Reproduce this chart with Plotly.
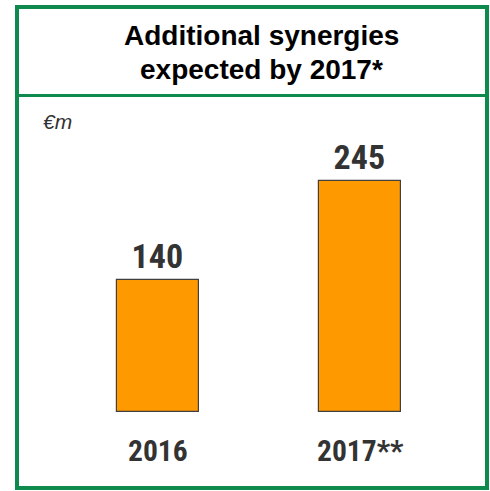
import plotly.graph_objects as go

# Chart data
categories = ["2016", "2017**"]
synergies = [140, 245]
title_lines = ["Additional synergies", "expected by 2017*"]
unit_label = "€m"

W, H = 490, 491
GREEN = "#0E8A4E"
ORANGE = "#FF9900"
DARK = "#333333"
NARROW = "Roboto Condensed, Liberation Sans Narrow, Arial Narrow, sans-serif"


def py(y_px):
    """Convert a pixel row (from top) to paper y."""
    return 1 - y_px / H


def px(x_px):
    return x_px / W


fig = go.Figure()
fig.add_trace(
    go.Bar(
        x=list(range(len(categories))),
        y=synergies,
        width=0.406,
        marker=dict(color=ORANGE, line=dict(color="#404040", width=1.2)),
        text=[str(v) for v in synergies],
        textposition="outside",
        cliponaxis=False,
        textfont=dict(family=NARROW, size=34, color=DARK, weight="bold"),
        hoverinfo="skip",
    )
)

# Axes: bar centres at x=158 and x=360 px, zero line at y=412 px
unit_x = 202.0
x0 = 158.0
unit_y = 231.0 / 245.0
zero_y = 412.0
fig.update_xaxes(
    range=[-x0 / unit_x, (W - x0) / unit_x],
    visible=False, fixedrange=True,
)
fig.update_yaxes(
    range=[-(H - zero_y) / unit_y, zero_y / unit_y],
    visible=False, fixedrange=True,
)

# Category labels below bars
for i, c in enumerate(categories):
    fig.add_annotation(
        x=i, y=py(451), xref="x", yref="paper",
        text=f"<b>{c}</b>", showarrow=False,
        font=dict(family=NARROW, size=29.5, color=DARK),
        xanchor="center", yanchor="middle",
    )

# Title block
fig.add_annotation(
    x=px(261), y=py(35), xref="paper", yref="paper",
    text=f"<b>{title_lines[0]}</b>", showarrow=False,
    font=dict(family="Liberation Sans, Arial, sans-serif", size=28, color="black"),
    xanchor="center", yanchor="middle",
)
fig.add_annotation(
    x=px(261), y=py(69), xref="paper", yref="paper",
    text=f"<b>{title_lines[1]}</b>", showarrow=False,
    font=dict(family="Liberation Sans, Arial, sans-serif", size=28, color="black"),
    xanchor="center", yanchor="middle",
)

# Unit label
fig.add_annotation(
    x=px(41), y=py(121), xref="paper", yref="paper",
    text=f"<i>{unit_label}</i>", showarrow=False,
    font=dict(family="Liberation Sans, Arial, sans-serif", size=21, color=DARK),
    xanchor="left", yanchor="middle",
)

# Frame and divider
fig.add_shape(type="rect", xref="paper", yref="paper",
              x0=px(17), x1=px(487), y0=py(488), y1=py(7),
              line=dict(color=GREEN, width=4))
fig.add_shape(type="line", xref="paper", yref="paper",
              x0=px(17), x1=px(487), y0=py(95.5), y1=py(95.5),
              line=dict(color=GREEN, width=3))

fig.update_layout(
    width=W, height=H,
    margin=dict(l=0, r=0, t=0, b=0),
    paper_bgcolor="white", plot_bgcolor="white",
    showlegend=False,
    bargap=0,
)

fig.write_html("out.html")
